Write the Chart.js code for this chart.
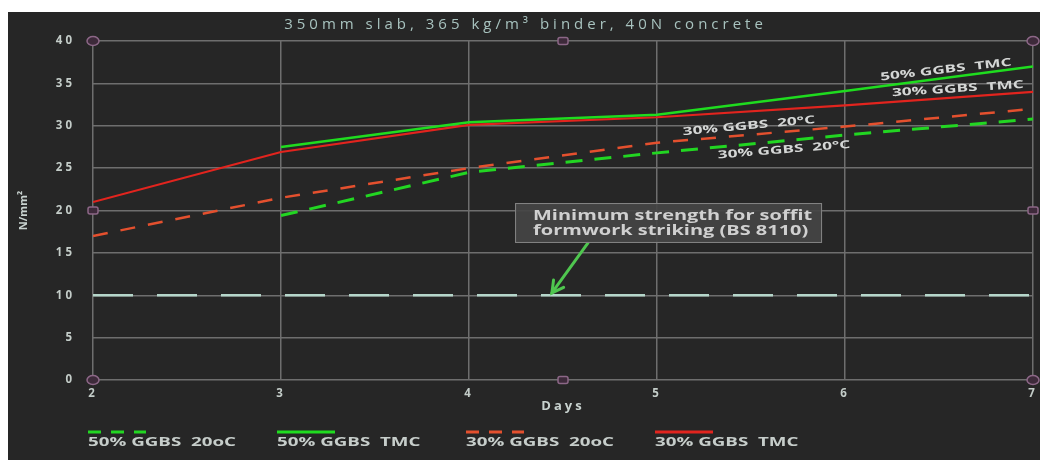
<!DOCTYPE html>
<html><head><meta charset="utf-8">
<script src="https://cdn.jsdelivr.net/npm/chart.js@4/dist/chart.umd.min.js"></script>
<style>html,body{margin:0;padding:0;background:#fff;}canvas{display:block}</style>
</head><body>
<canvas id="c" width="1040" height="463"></canvas>
<script>
// ---- data ----
const days = [2, 3, 4, 5, 6, 7];
const ggbs50_20C = [null, 19.4, 24.5, 26.8, 28.9, 30.8];
const ggbs50_TMC = [null, 27.5, 30.4, 31.3, 34.1, 37.0];
const ggbs30_20C = [17.0, 21.5, 25.0, 28.0, 29.9, 32.0];
const ggbs30_TMC = [21.0, 26.9, 30.1, 31.0, 32.4, 34.0];
const minStrength = [10, 10, 10, 10, 10, 10];
const seriesLabels = ['50% GGBS  20oC', '50% GGBS  TMC', '30% GGBS  20oC', '30% GGBS  TMC'];
const yTickValues = [0, 5, 10, 15, 20, 25, 30, 35, 40];
const chartTitle = '350mm slab, 365 kg/m³ binder, 40N concrete';
const yTitle = 'N/mm²';
const xTitle = 'Days';
const calloutLines = ['Minimum strength for soffit', 'formwork striking (BS 8110)'];
const lineLabelTexts = ['50% GGBS  TMC', '30% GGBS  TMC', '30% GGBS  20°C', '30% GGBS  20°C'];

const pts = vals => days.map((d, i) => ({x: d, y: vals[i]})).filter(p => p.y !== null);

const TXT = '#c3ccc8';
const FONT = 'Open Sans';
const setLS = (ctx, v) => { try { ctx.letterSpacing = v; } catch (e) {} };

// draw text stretched horizontally by sx
function wideText(ctx, text, x, y, sx, align) {
  ctx.save();
  ctx.translate(x, y);
  ctx.scale(sx, 1);
  ctx.textAlign = align || 'left';
  ctx.fillText(text, 0, 0);
  ctx.restore();
}

const bgPlugin = {
  id: 'bg',
  afterUpdate(chart) {
    const y = chart.scales.y;
    if (y && !y._lsWrapped) {
      const orig = y.drawTitle.bind(y);
      y.drawTitle = function () {
        const c = this.ctx; const prev = c.letterSpacing;
        setLS(c, '0px'); orig(); setLS(c, prev);
      };
      y._lsWrapped = true;
    }
    const t = chart.titleBlock;
    if (t && !t._lsWrapped) {
      const origT = t.draw.bind(t);
      t.draw = function () {
        const c = chart.ctx; const prev = c.letterSpacing;
        setLS(c, '4px'); origT(); setLS(c, prev);
      };
      t._lsWrapped = true;
    }
  },
  beforeDraw(chart) {
    const ctx = chart.ctx;
    ctx.fillStyle = '#ffffff';
    ctx.fillRect(0, 0, chart.width, chart.height);
    ctx.fillStyle = '#262626';
    ctx.fillRect(8, 12, chart.width - 8, 448);
    setLS(ctx, '3px');
  }
};

const annotPlugin = {
  id: 'annot',
  afterDraw(chart) {
    const ctx = chart.ctx, xs = chart.scales.x, ys = chart.scales.y, ca = chart.chartArea;
    const X = v => xs.getPixelForValue(v), Y = v => ys.getPixelForValue(v);
    ctx.save();
    setLS(ctx, '0px');
    ctx.textBaseline = 'middle';
    // rotated line labels
    const anchors = [[6.537, 36.6, -6.5], [6.60, 34.35, -3.6], [5.489, 29.97, -5.3], [5.676, 27.14, -4.6]];
    ctx.font = 'bold 11px "' + FONT + '"';
    const sxL = 132 / ctx.measureText(lineLabelTexts[0]).width;
    ctx.fillStyle = '#d4d6d5';
    anchors.forEach((a, i) => {
      ctx.save();
      ctx.translate(X(a[0]), Y(a[1]));
      ctx.rotate(a[2] * Math.PI / 180);
      wideText(ctx, lineLabelTexts[i], 0, 0, sxL, 'center');
      ctx.restore();
    });
    // callout arrow
    const ax0 = X(4.633), ay0 = Y(16.17), ax1 = X(4.441), ay1 = Y(10.27);
    ctx.strokeStyle = '#4fc64f';
    ctx.lineWidth = 3;
    ctx.lineCap = 'round';
    ctx.beginPath(); ctx.moveTo(ax0, ay0); ctx.lineTo(ax1, ay1); ctx.stroke();
    const ang = Math.atan2(ay1 - ay0, ax1 - ax0);
    ctx.beginPath();
    ctx.moveTo(ax1 + 13 * Math.cos(ang + Math.PI - 0.5), ay1 + 13 * Math.sin(ang + Math.PI - 0.5));
    ctx.lineTo(ax1, ay1);
    ctx.lineTo(ax1 + 13 * Math.cos(ang + Math.PI + 0.5), ay1 + 13 * Math.sin(ang + Math.PI + 0.5));
    ctx.stroke();
    // callout box
    const bx0 = X(4.245), by0 = Y(20.88), bx1 = X(5.878), by1 = Y(16.17);
    ctx.fillStyle = 'rgba(68,68,68,0.92)';
    ctx.fillRect(bx0, by0, bx1 - bx0, by1 - by0);
    ctx.strokeStyle = '#858585';
    ctx.lineWidth = 1;
    ctx.strokeRect(bx0 + 0.5, by0 + 0.5, bx1 - bx0 - 1, by1 - by0 - 1);
    ctx.font = 'bold 14px "' + FONT + '"';
    const sxC = 279 / ctx.measureText(calloutLines[0]).width;
    ctx.fillStyle = '#d0d0d0';
    wideText(ctx, calloutLines[0], bx0 + 18, by0 + 13, sxC, 'left');
    wideText(ctx, calloutLines[1], bx0 + 18, by0 + 28, sxC, 'left');
    // legend
    const ds = chart.data.datasets;
    ctx.font = 'bold 12px "' + FONT + '"';
    const sxG = 148 / ctx.measureText(seriesLabels[0]).width;
    for (let i = 0; i < 4; i++) {
      const x0 = ca.left - 5 + i * 189;
      const d = ds[i];
      ctx.strokeStyle = d.borderColor;
      ctx.lineWidth = 3;
      ctx.lineCap = 'butt';
      ctx.setLineDash(d.borderDash && d.borderDash.length ? [13, 10] : []);
      ctx.beginPath(); ctx.moveTo(x0, 432); ctx.lineTo(x0 + 58, 432); ctx.stroke();
      ctx.setLineDash([]);
      ctx.fillStyle = '#c6cdca';
      wideText(ctx, seriesLabels[i], x0, 443, sxG, 'left');
    }
    // selection handles
    const midX = (ca.left + ca.right) / 2, midY = (ca.top + ca.bottom) / 2;
    ctx.strokeStyle = '#8c6787';
    ctx.fillStyle = '#3d2a3a';
    ctx.lineWidth = 1.5;
    [[ca.left, ca.top], [ca.left, ca.bottom], [ca.right, ca.top], [ca.right, ca.bottom]].forEach(p => {
      ctx.beginPath(); ctx.ellipse(p[0], p[1], 6, 4.5, 0, 0, Math.PI * 2); ctx.fill(); ctx.stroke();
    });
    [[ca.left, midY], [ca.right, midY], [midX, ca.top], [midX, ca.bottom]].forEach(p => {
      ctx.beginPath();
      if (ctx.roundRect) ctx.roundRect(p[0] - 5, p[1] - 3.5, 10, 7, 2); else ctx.rect(p[0] - 5, p[1] - 3.5, 10, 7);
      ctx.fill(); ctx.stroke();
    });
    ctx.restore();
  }
};

new Chart(document.getElementById('c'), {
  type: 'line',
  data: {
    datasets: [
      {label: seriesLabels[0], data: pts(ggbs50_20C), borderColor: '#22d622', borderWidth: 3, borderDash: [17, 12]},
      {label: seriesLabels[1], data: pts(ggbs50_TMC), borderColor: '#1fdc1f', borderWidth: 2.5, borderDash: []},
      {label: seriesLabels[2], data: pts(ggbs30_20C), borderColor: '#e4502e', borderWidth: 2.5, borderDash: [15, 13]},
      {label: seriesLabels[3], data: pts(ggbs30_TMC), borderColor: '#e2241e', borderWidth: 2.2, borderDash: []},
      {label: 'Minimum strength', data: pts(minStrength), borderColor: '#b5d6ca', borderWidth: 2.5, borderDash: [40, 24]}
    ]
  },
  options: {
    responsive: false,
    animation: false,
    devicePixelRatio: 1,
    elements: {point: {radius: 0}, line: {tension: 0, fill: false}},
    layout: {padding: {top: 0, right: 7, left: 18, bottom: 0}},
    plugins: {
      legend: {display: false},
      tooltip: {enabled: false},
      title: {display: true, text: chartTitle, color: '#a8c3bf', font: {family: FONT, size: 15, weight: 'normal', lineHeight: 1.2}, padding: {top: 16, bottom: 7}}
    },
    scales: {
      x: {
        type: 'linear', min: 2, max: 7,
        afterBuildTicks: s => { s.ticks = days.map(v => ({value: v})); },
        ticks: {color: TXT, font: {family: FONT, size: 11.5, weight: 'bold'}, padding: 7, autoSkip: false, maxRotation: 0},
        grid: {color: '#6e6e6e', lineWidth: 1.5, drawTicks: false},
        border: {display: false},
        title: {display: true, text: xTitle, color: '#c8d2cf', font: {family: FONT, size: 13, weight: 'bold', lineHeight: 1.2}, padding: {top: 0, bottom: 49}},
        afterFit: s => { s.height = 83; s.paddingLeft = 0; s.paddingRight = 0; }
      },
      y: {
        min: 0, max: 40,
        afterBuildTicks: s => { s.ticks = yTickValues.map(v => ({value: v})); },
        ticks: {color: TXT, font: {family: FONT, size: 11.5, weight: 'bold'}, padding: 18},
        grid: {color: '#6e6e6e', lineWidth: 1.5, drawTicks: false},
        border: {display: false},
        title: {display: true, text: yTitle, color: '#c8d2cf', font: {family: FONT, size: 11, weight: 'bold', lineHeight: 1}, padding: {top: 0, bottom: 0}},
        afterFit: s => { s.width = 75; s.paddingTop = 0; s.paddingBottom = 0; }
      }
    }
  },
  plugins: [bgPlugin, annotPlugin]
});
</script>
</body></html>
